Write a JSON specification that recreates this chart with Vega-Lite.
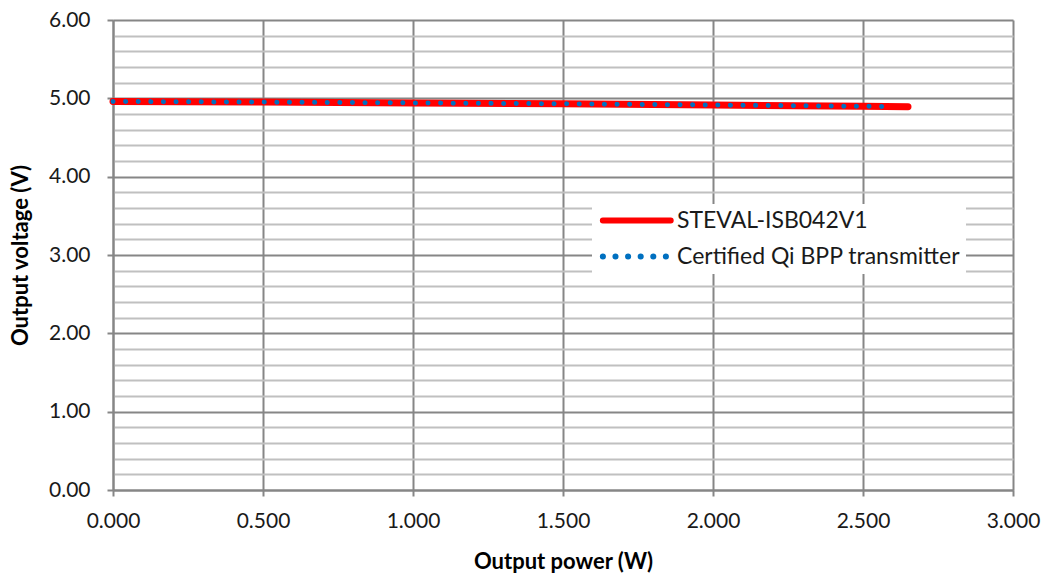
{
  "$schema": "https://vega.github.io/schema/vega-lite/v6.json",
  "width": 900,
  "height": 470,
  "autosize": {"type": "none"},
  "padding": {"left": 113, "top": 20, "right": 38, "bottom": 87},
  "background": "white",
  "config": {
    "font": "Lato",
    "view": {"stroke": null},
    "axis": {
      "labelFont": "Lato",
      "titleFont": "Lato",
      "labelFontSize": 21,
      "labelColor": "#1a1a1a",
      "titleColor": "#000000",
      "titleFontSize": 22,
      "titleFontWeight": "bold",
      "domainColor": "#868686",
      "domainWidth": 2,
      "tickColor": "#868686",
      "tickWidth": 2,
      "tickSize": 6,
      "labelFlush": false,
      "labelOverlap": false
    }
  },
  "data": {
    "values": [
      {"power": 0.0, "voltage": 4.96, "series": "STEVAL-ISB042V1"},
      {"power": 0.5, "voltage": 4.952, "series": "STEVAL-ISB042V1"},
      {"power": 1.0, "voltage": 4.942, "series": "STEVAL-ISB042V1"},
      {"power": 1.5, "voltage": 4.93, "series": "STEVAL-ISB042V1"},
      {"power": 2.0, "voltage": 4.915, "series": "STEVAL-ISB042V1"},
      {"power": 2.5, "voltage": 4.9, "series": "STEVAL-ISB042V1"},
      {"power": 2.65, "voltage": 4.893, "series": "STEVAL-ISB042V1"},
      {"power": 0.0, "voltage": 4.96, "series": "Certified Qi BPP transmitter"},
      {"power": 0.5, "voltage": 4.952, "series": "Certified Qi BPP transmitter"},
      {"power": 1.0, "voltage": 4.942, "series": "Certified Qi BPP transmitter"},
      {"power": 1.5, "voltage": 4.93, "series": "Certified Qi BPP transmitter"},
      {"power": 2.0, "voltage": 4.915, "series": "Certified Qi BPP transmitter"},
      {"power": 2.6, "voltage": 4.895, "series": "Certified Qi BPP transmitter"}
    ]
  },
  "encoding": {
    "x": {
      "field": "power",
      "type": "quantitative",
      "title": "Output power (W)",
      "scale": {"domain": [0, 3], "nice": false, "zero": true},
      "axis": {
        "values": [0, 0.5, 1, 1.5, 2, 2.5, 3],
        "format": ".3f",
        "grid": true,
        "gridColor": "#868686",
        "gridWidth": 2,
        "labelPadding": 14,
        "titlePadding": 20
      }
    },
    "y": {
      "field": "voltage",
      "type": "quantitative",
      "title": "Output voltage (V)",
      "scale": {"domain": [0, 6], "nice": false},
      "axis": {
        "values": [0, 0.2, 0.4, 0.6, 0.8, 1, 1.2, 1.4, 1.6, 1.8, 2, 2.2, 2.4, 2.6, 2.8, 3, 3.2, 3.4, 3.6, 3.8, 4, 4.2, 4.4, 4.6, 4.8, 5, 5.2, 5.4, 5.6, 5.8, 6],
        "format": ".2f",
        "labelExpr": "abs(datum.value - round(datum.value)) < 0.01 ? datum.label : ''",
        "grid": true,
        "gridColor": {"condition": {"test": "abs(datum.value - round(datum.value)) < 0.01", "value": "#868686"}, "value": "#c0c0c0"},
        "gridWidth": 2,
        "tickOpacity": {"condition": {"test": "abs(datum.value - round(datum.value)) < 0.01", "value": 1}, "value": 0},
        "labelPadding": 17,
        "titlePadding": 16
      }
    }
  },
  "layer": [
    {
      "transform": [{"filter": "datum.series == 'STEVAL-ISB042V1'"}],
      "mark": {"type": "line", "color": "#ff0000", "strokeWidth": 7, "strokeCap": "round"},
      "encoding": {
        "color": {
          "field": "series",
          "type": "nominal",
          "title": null,
          "scale": {"domain": ["STEVAL-ISB042V1", "Certified Qi BPP transmitter"], "range": ["#ff0000", "#0070c0"]},
          "legend": {
            "orient": "none",
            "legendX": 479,
            "legendY": 184,
            "fillColor": "white",
            "padding": 5,
            "symbolType": "M-1,0H11",
            "symbolSize": 128,
            "symbolStrokeWidth": 6,
            "labelFont": "Lato",
            "labelFontSize": 23,
            "labelColor": "#1a1a1a",
            "labelLimit": 0,
            "labelOffset": 57,
            "rowPadding": 11,
            "encode": {
              "symbols": {
                "update": {
                  "strokeCap": {"value": "round"},
                  "strokeDash": {"signal": "datum.label == 'STEVAL-ISB042V1' ? [1,0] : [0.1,12.5]"}
                }
              }
            }
          }
        }
      }
    },
    {
      "transform": [{"filter": "datum.series == 'Certified Qi BPP transmitter'"}],
      "mark": {"type": "line", "color": "#0070c0", "strokeWidth": 5, "strokeCap": "round", "strokeDash": [0.1, 12.5]},
      "encoding": {
        "color": {"field": "series", "type": "nominal"}
      }
    }
  ]
}
